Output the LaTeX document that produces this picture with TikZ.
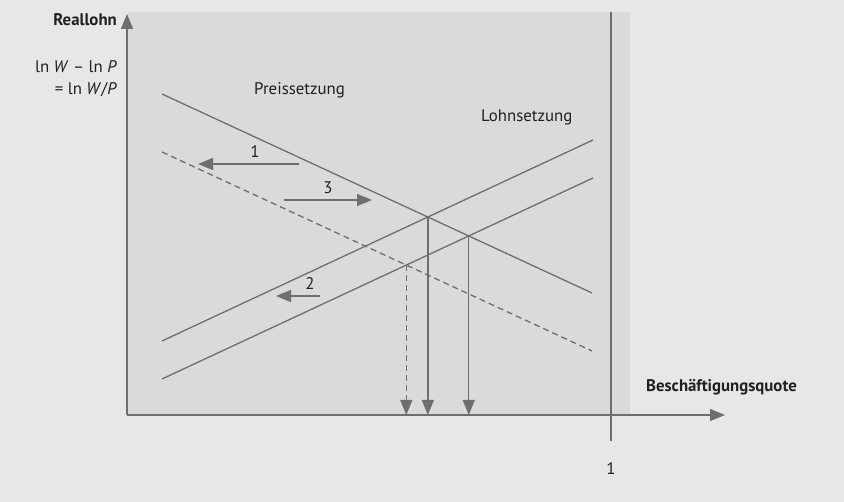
\documentclass[tikz,border=0pt]{standalone}
\usepackage{fontspec}
\setmainfont{PT Sans}
\usetikzlibrary{arrows.meta}
\definecolor{outerbg}{HTML}{E6E7E9}
\definecolor{panelbg}{HTML}{D9DADC}
\definecolor{linegray}{HTML}{6D6E70}
\definecolor{textgray}{HTML}{231F20}
\def\dline{\draw[linegray,line width=1.3pt]}
\def\darr{\draw[linegray,line width=1.3pt,-{Triangle[length=15pt,width=12pt]}]}
\tikzset{lbl/.style={text=textgray,font=\fontsize{16.8}{19}\selectfont,inner sep=0pt}}

\begin{document}
\begin{tikzpicture}[x=1pt,y=-1pt]
                \useasboundingbox[fill=outerbg] (0,0) rectangle (844,502);
                \fill[panelbg] (128,12) rectangle (630,415);
                % axes
                \coordinate (O) at (127,415);
                \coordinate (ytop) at (127,14);
                \coordinate (xend) at (725,415);
                \darr (O) -- (ytop);
                \darr (O) -- (xend);
                \coordinate (one) at (611,12);
                \coordinate (onetick) at (611,441);
                \dline (one) -- (onetick);
                \node[lbl] (onelbl) at (611,469) {1};
                \node[lbl,anchor=east] (ylbl) at (117,20) {\textbf{Reallohn}};
                \node[lbl,anchor=east] (ylna) at (117,67) {ln \textit{W} -- ln \textit{P}};
                \node[lbl,anchor=east] (ylnb) at (117,90) {= ln \textit{W}/\textit{P}};
                \node[lbl,anchor=east] (xlbl) at (797,387) {\textbf{Besch\"aftigungsquote}};
                % curves
                \coordinate (P1) at (162,94);  \coordinate (P2) at (592,293);
                \coordinate (D1) at (162,152); \coordinate (D2) at (592,351);
                \coordinate (L1) at (162,341); \coordinate (L2) at (593,140);
                \coordinate (M1) at (162,379); \coordinate (M2) at (593,178);
                \dline (P1) -- (P2);
                \dline[dash pattern=on 6pt off 4pt] (D1) -- (D2);
                \dline (L1) -- (L2);
                \dline (M1) -- (M2);
                \node[lbl,anchor=west] (preis) at (254,90) {Preissetzung};
                \node[lbl,anchor=west] (lohn) at (481,117) {Lohnsetzung};
                % equilibria
                \coordinate (A) at (intersection of P1--P2 and L1--L2);
                \coordinate (B) at (intersection of P1--P2 and M1--M2);
                \coordinate (C) at (intersection of D1--D2 and M1--M2);
                \darr (A) -- (A |- O);
                \darr (B) -- (B |- O);
                \darr[dash pattern=on 6pt off 4pt] (C) -- (C |- O);
                % shifts
                \coordinate (s1a) at (299,164); \coordinate (s1b) at (198,164);
                \coordinate (s3a) at (284,200); \coordinate (s3b) at (372,200);
                \coordinate (s2a) at (320,296); \coordinate (s2b) at (276,296);
                \darr (s1a) -- (s1b);
                \darr (s3a) -- (s3b);
                \darr (s2a) -- (s2b);
                \node[lbl] (n1) at (255,152) {1};
                \node[lbl] (n3) at (328,188) {3};
                \node[lbl] (n2) at (310,284) {2};
            \end{tikzpicture}
\end{document}
